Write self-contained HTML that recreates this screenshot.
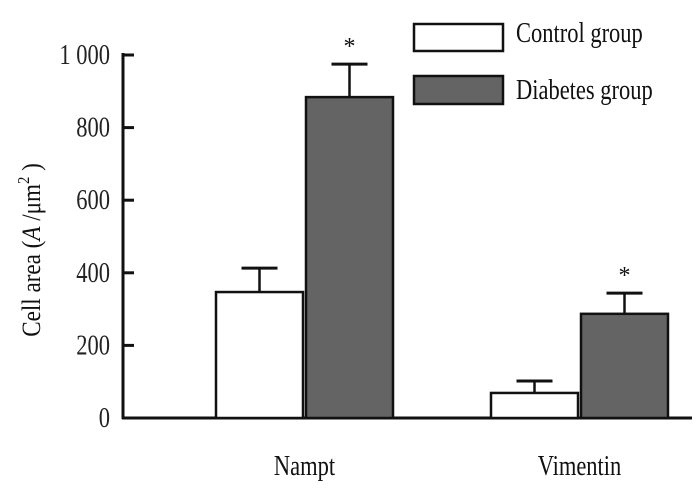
<!DOCTYPE html>
<html><head><meta charset="utf-8"><style>
body{margin:0;background:#fff}
svg{display:block;font-family:"Liberation Serif",serif}
</style></head><body>
<svg id="c" width="700" height="500"></svg>
<script>
const categories=["Nampt","Vimentin"];
const controlValues=[347,69];
const controlErr=[413,102];
const diabetesValues=[884,287];
const diabetesErr=[975,344];
const yTicks=[0,200,400,600,800,1000];
const yTickLabels=["0","200","400","600","800","1 000"];
const NS="http://www.w3.org/2000/svg";
const svg=document.getElementById('c');
const y0=418,yTop=55,xAxis=123;
const y=v=>y0-(v/1000)*(y0-yTop);
const groupStart=[216,491];
const bw=87,gap=3;
function mk(t,a){const e=document.createElementNS(NS,t);for(const k in a)e.setAttribute(k,a[k]);svg.appendChild(e);return e;}
let e;
e=mk('line',{x1:xAxis,y1:y(1000)-2,x2:xAxis,y2:y0+1,stroke:'#111','stroke-width':3});


e=mk('line',{x1:xAxis-1,y1:y0,x2:692,y2:y0,stroke:'#111','stroke-width':3});


yTicks.forEach((t,i)=>{
 e=mk('line',{x1:xAxis,y1:y(t),x2:xAxis+11,y2:y(t),stroke:'#111','stroke-width':3});
 
 
 e=mk('text',{x:0,y:0,'text-anchor':'end','font-size':25,fill:'#222',transform:'translate(110,'+(y(t)+9)+') scale(0.9,1.15)'});
 e.textContent=yTickLabels[i];
 
 
});
categories.forEach((c,i)=>{
 const xs=[groupStart[i],groupStart[i]+bw+gap];
 [[controlValues,controlErr,'#fff','control'],[diabetesValues,diabetesErr,'#646464','diabetes']].forEach((s,j)=>{
  const v=s[0][i],er=s[1][i],x=xs[j];
  e=mk('line',{x1:x+bw/2,y1:y(v),x2:x+bw/2,y2:y(er),stroke:'#111','stroke-width':2.5});
  
  
  e=mk('line',{x1:x+bw/2-18,y1:y(er),x2:x+bw/2+18,y2:y(er),stroke:'#111','stroke-width':3});
  
  
  e=mk('rect',{x:x,y:y(v),width:bw,height:y0-y(v),fill:s[2],stroke:'#111','stroke-width':2.5});
  
  
  if(j==1){
   e=mk('text',{x:x+bw/2,y:y(er)-10,'text-anchor':'middle','font-size':24,fill:'#111'});
   e.textContent='*';
   
   
  }
 });
 e=mk('text',{x:0,y:0,'text-anchor':'middle','font-size':25,fill:'#111',transform:'translate('+(groupStart[i]+bw+gap/2)+',475) scale(0.9,1.15)'});
 e.textContent=c;
 
 
});
</script>
<div style="position:absolute;left:0;top:0">
<svg width="700" height="500" style="position:absolute;left:0;top:0;font-family:'Liberation Serif',serif">
 <g>
  <rect x="414" y="24" width="89" height="27" fill="#fff" stroke="#111" stroke-width="2.5"/>
  <text transform="translate(516,42) scale(0.9,1.15)" font-size="25" fill="#111">Control  group</text>
  <rect x="414" y="76" width="89" height="28" fill="#646464" stroke="#111" stroke-width="2.5"/>
  <text transform="translate(516,99) scale(0.9,1.15)" font-size="25" fill="#111">Diabetes group</text>
 </g>
 <text transform="translate(40,250) rotate(-90) scale(1.05,1.2)" text-anchor="middle" font-size="22" fill="#111">Cell area (<tspan font-style="italic">A</tspan> /μm<tspan dy="-9" font-size="14">2</tspan><tspan dy="9"> )</tspan></text>
</svg></div>
</body></html>
